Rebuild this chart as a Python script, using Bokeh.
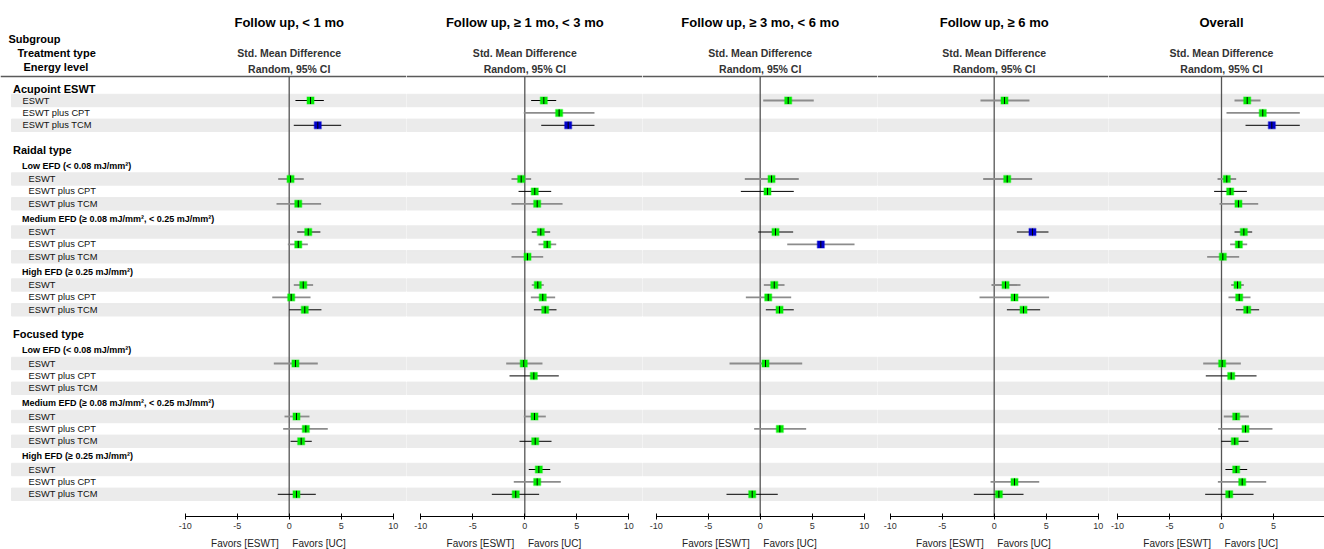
import math
from bokeh.plotting import figure
from bokeh.layouts import row
from bokeh.models import Range1d, LinearAxis, FixedTicker, ColumnDataSource
from bokeh.core.properties import value
from bokeh.embed import file_html
from bokeh.resources import INLINE

# ---------------- data ----------------
panel_titles = ["Follow up, < 1 mo", "Follow up, \u2265 1 mo, < 3 mo",
                "Follow up, \u2265 3 mo, < 6 mo", "Follow up, \u2265 6 mo", "Overall"]
sub_title_1 = "Std. Mean Difference"
sub_title_2 = "Random, 95% CI"
header_lines = ["Subgroup", "Treatment type", "Energy level"]
favors_left = "Favors [ESWT]"
favors_right = "Favors [UC]"
tick_values = [-10, -5, 0, 5, 10]

treatments = ["ESWT", "ESWT plus CPT", "ESWT plus TCM"]
structure = [
    ("group", "Acupoint ESWT"),
    ("group", "Raidal type"),
    ("sub", "Low EFD (< 0.08 mJ/mm\u00b2)"),
    ("sub", "Medium EFD (\u2265 0.08 mJ/mm\u00b2, < 0.25 mJ/mm\u00b2)"),
    ("sub", "High EFD (\u2265 0.25 mJ/mm\u00b2)"),
    ("group", "Focused type"),
    ("sub", "Low EFD (< 0.08 mJ/mm\u00b2)"),
    ("sub", "Medium EFD (\u2265 0.08 mJ/mm\u00b2, < 0.25 mJ/mm\u00b2)"),
    ("sub", "High EFD (\u2265 0.25 mJ/mm\u00b2)"),
]
N = None
# 21 rows: Acupoint(E,C,T), Radial Low/Med/High (E,C,T), Focused Low/Med/High (E,C,T)
p1_est = [2.05, N, 2.75, 0.13, N, 0.87, 1.83, 0.87, N, 1.35, 0.19, 1.5, 0.6, N, N, 0.7, 1.6, 1.15, N, N, 0.7]
p1_lo = [0.6, N, 0.44, -1.06, N, -1.22, 0.77, -0.13, N, 0.44, -1.63, 0.0, -1.48, N, N, -0.45, -0.58, 0.13, N, N, -1.1]
p1_hi = [3.33, N, 5.0, 1.4, N, 3.07, 3.0, 1.79, N, 2.3, 2.05, 3.1, 2.75, N, N, 1.95, 3.71, 2.17, N, N, 2.56]
p1_flag = "k.Kg.gkg.ggkg..ggk..k"

p2_est = [1.83, 3.3, 4.17, -0.35, 0.96, 1.19, 1.54, 2.15, 0.26, 1.25, 1.73, 1.96, -0.1, 0.87, N, 0.93, N, 1.0, 1.35, 1.19, -0.87]
p2_lo = [0.61, -0.1, 1.58, -1.28, -0.6, -1.28, 0.67, 1.32, -1.28, 0.67, 0.58, 0.87, -1.79, -1.47, N, -0.1, N, -0.51, 0.38, -1.06, -3.17]
p2_hi = [3.02, 6.7, 6.7, 0.61, 2.54, 3.63, 2.44, 3.02, 1.77, 1.83, 2.92, 3.05, 1.7, 3.27, N, 2.02, N, 2.57, 2.44, 3.46, 1.38]
p2_flag = "kgKgkgkggggkgk.g.kkgk"

p3_est = [2.69, N, N, 1.09, 0.7, N, 1.47, 5.83, N, 1.35, 0.77, 1.86, 0.51, N, N, N, 1.89, N, N, N, -0.77]
p3_lo = [0.29, N, N, -1.48, -1.86, N, -0.19, 2.6, N, 0.35, -1.38, 0.54, -2.95, N, N, N, -0.58, N, N, N, -3.24]
p3_hi = [5.15, N, N, 3.71, 3.23, N, 3.17, 9.07, N, 2.34, 2.98, 3.23, 4.04, N, N, N, 4.42, N, N, N, 1.69]
p3_flag = "g..gk.kG.ggkg...g...k"

p4_est = [0.99, N, N, 1.25, N, N, 3.68, N, N, 1.09, 1.95, 2.82, N, N, N, N, N, N, N, 1.95, 0.45]
p4_lo = [-1.32, N, N, -1.06, N, N, 2.18, N, N, -0.26, -1.41, 1.22, N, N, N, N, N, N, N, -0.35, -1.96]
p4_hi = [3.39, N, N, 3.65, N, N, 5.22, N, N, 2.53, 5.28, 4.42, N, N, N, N, N, N, N, 4.33, 2.82]
p4_flag = "g..g..K..ggk.......gk"

p5_est = [2.47, 3.97, 4.84, 0.51, 0.83, 1.63, 2.15, 1.67, 0.13, 1.54, 1.7, 2.47, 0.06, 0.93, N, 1.41, 2.31, 1.28, 1.41, 1.99, 0.74]
p5_lo = [1.25, 0.48, 2.31, -0.38, -0.71, -0.19, 1.25, 0.83, -1.38, 0.93, 0.67, 1.38, -1.76, -1.51, N, 0.22, -0.32, -0.03, 0.38, -0.35, -1.57]
p5_hi = [3.75, 7.53, 7.53, 1.41, 2.44, 3.53, 2.95, 2.47, 1.7, 2.15, 2.79, 3.62, 1.86, 3.37, N, 2.63, 4.9, 2.6, 2.47, 4.3, 3.08]
p5_flag = "ggKgkgkggggkgk.ggkkgk"

panels = [(p1_est, p1_lo, p1_hi, p1_flag), (p2_est, p2_lo, p2_hi, p2_flag),
          (p3_est, p3_lo, p3_hi, p3_flag), (p4_est, p4_lo, p4_hi, p4_flag),
          (p5_est, p5_lo, p5_hi, p5_flag)]

# ---------------- layout ----------------
FONT = value("Liberation Sans")
HEIGHT = 549
AXIS_Y = 516
edges = [0, 406, 642, 877, 1108, 1324]
zero_px = [288.7, 524.3, 759.7, 993.7, 1221.0]
PX_PER_UNIT = 10.4
RULE_Y = 76
ROW_H = 12.4
BAND_LEFT_PX = 11
GAPS = {("row", "group"): 24.5, ("group", "sub"): 16.0, ("row", "sub"): 15.0,
        ("group", "row"): 11.7, ("sub", "row"): 13.2, ("row", "row"): 12.4}

items = []
for kind, text in structure:
    items.append((kind, text))
    if kind == "sub" or text == "Acupoint ESWT":
        for t in treatments:
            items.append(("row", t))

ys = []
prev = None
y = 88.3
for kind, text in items:
    if prev is not None:
        y += GAPS[(prev, kind)]
    ys.append(y)
    prev = kind

row_y = [ys[i] for i, (k, _) in enumerate(items) if k == "row"]
row_lab = [t for (k, t) in items if k == "row"]
band_y = [yy for yy, t in zip(row_y, row_lab) if t != "ESWT plus CPT"]

yr = Range1d(start=HEIGHT, end=0)


def txt(p, xs, ys_, texts, size, bold=False, align="left", color="#000000"):
    p.text(x=xs, y=ys_, text=texts, text_font=FONT, text_font_size=value(size),
           text_font_style="bold" if bold else "normal", text_align=align,
           text_baseline="middle", text_color=color)


figs = []
for k, (est, lo, hi, flag) in enumerate(panels):
    z = zero_px[k]
    to_data = lambda px, z=z: (px - z) / PX_PER_UNIT
    x0 = to_data(edges[k])
    x1 = to_data(edges[k + 1])
    p = figure(width=edges[k + 1] - edges[k], height=HEIGHT, x_range=Range1d(x0, x1), y_range=yr,
               output_backend="svg", toolbar_location=None, x_axis_location=None, y_axis_location=None,
               min_border=0)
    p.outline_line_color = None
    p.background_fill_color = "white"
    p.border_fill_color = "white"
    p.grid.visible = False

    band_x0 = to_data(BAND_LEFT_PX) if k == 0 else x0
    p.hbar(y=band_y, height=ROW_H, left=band_x0, right=x1, color="#ebebeb")
    p.segment(x0=[x0], y0=[RULE_Y], x1=[x1], y1=[RULE_Y], line_color="#5a5a5a", line_width=1.6)
    p.segment(x0=[0], y0=[RULE_Y], x1=[0], y1=[AXIS_Y], line_color="#555555", line_width=1.3)

    txt(p, [0], [22], [panel_titles[k]], "13px", bold=True, align="center")
    txt(p, [0], [52.3], [sub_title_1], "10.5px", bold=True, align="center", color="#333333")
    txt(p, [0], [68], [sub_title_2], "10.5px", bold=True, align="center", color="#333333")

    if k == 0:
        # subgroup label column, drawn in the first panel's frame
        txt(p, [to_data(8), to_data(17), to_data(23)], [38, 52.7, 66.7], header_lines, "11px", bold=True)
        cur_group = None
        for (kind, text), yy in zip(items, ys):
            if kind == "group":
                cur_group = text
                txt(p, [to_data(12.5)], [yy], [text], "11px", bold=True)
            elif kind == "sub":
                txt(p, [to_data(21.5)], [yy], [text], "9px", bold=True)
            else:
                xx = 22 if cur_group == "Acupoint ESWT" else 28
                txt(p, [to_data(xx)], [yy], [text], "9.3px", color="#111111")

    sel = [i for i in range(len(est)) if est[i] is not None]
    src = ColumnDataSource(dict(
        y=[row_y[i] for i in sel],
        est=[est[i] for i in sel],
        lo=[lo[i] for i in sel],
        hi=[hi[i] for i in sel],
        wcol=["#000000" if flag[i] in "kK" else "#8c8c8c" for i in sel],
        wwid=[1.0 if flag[i] in "kK" else 1.8 for i in sel],
        fill=["#0000cc" if flag[i] in "KG" else "#00ee00" for i in sel],
    ))
    p.segment(x0="lo", y0="y", x1="hi", y1="y", line_color="wcol", line_width="wwid", source=src)
    p.scatter(x="est", y="y", marker="square", size=7, fill_color="fill", line_color="fill",
              line_alpha=0.35, line_width=1.5, source=src)
    p.scatter(x="est", y="y", marker="dash", angle=math.pi / 2, size=7, line_color="#000000",
              line_width=1, source=src)

    ax = LinearAxis(ticker=FixedTicker(ticks=tick_values), bounds=(-10, 10), fixed_location=AXIS_Y)
    ax.major_label_overrides = {t: str(t) for t in tick_values}
    ax.axis_line_color = "#000000"
    ax.axis_line_width = 1
    ax.major_tick_line_color = "#000000"
    ax.major_tick_in = 3
    ax.major_tick_out = 3
    ax.minor_tick_line_color = None
    ax.major_label_standoff = 3
    ax.major_label_text_font = "Liberation Sans"
    ax.major_label_text_font_size = "9px"
    ax.major_label_text_color = "#333333"
    p.add_layout(ax, "below")

    txt(p, [-1.0], [543], [favors_left], "10px", align="right", color="#222222")
    txt(p, [0.3], [543], [favors_right], "10px", align="left", color="#222222")
    figs.append(p)

layout = row(*figs, spacing=0)
open("out.html", "w").write(file_html(layout, INLINE))
